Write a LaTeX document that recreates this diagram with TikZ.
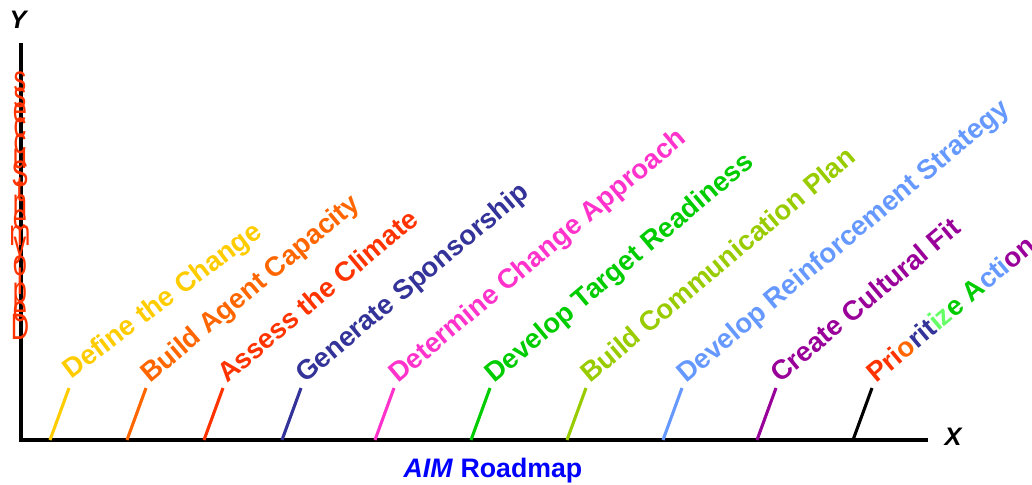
\documentclass[tikz,border=0pt]{standalone}
\usepackage{fontspec}
\setmainfont{Liberation Sans}
\usepackage{tikz}
\usetikzlibrary{calc}

\definecolor{gold}{HTML}{FFCC00}
\definecolor{orng}{HTML}{FF6600}
\definecolor{redorng}{HTML}{FF3300}
\definecolor{navy}{HTML}{333399}
\definecolor{pink}{HTML}{FF33CC}
\definecolor{grn}{HTML}{00CC00}
\definecolor{lime}{HTML}{99CC00}
\definecolor{skyblue}{HTML}{6699FF}
\definecolor{purp}{HTML}{990099}
\definecolor{lightgrn}{HTML}{66FF66}

\tikzset{
  axis/.style={line width=2.2pt, black},
  tick/.style={line width=2.2pt},
  phase/.style={anchor=base west, inner sep=0pt, rotate=40,
    font=\fontsize{19.5}{21}\selectfont\bfseries},
  axlabel/.style={font=\fontsize{18}{20}\selectfont\bfseries\itshape},
  stackletter/.style={redorng, inner sep=0pt, yscale=1.45,
    font=\fontsize{18}{18}\selectfont}
}

\begin{document}
\begin{tikzpicture}[x=0.025cm, y=-0.025cm]
		\useasboundingbox (0,0) rectangle (1032,485);

		% axes
		\coordinate (O) at (21,440);
		\coordinate (ytop) at (21,43);
		\coordinate (xend) at (928,440);
		\draw[axis] (ytop) -- (O) -- (xend);
		\node (Y) [axlabel] at (18,20) {Y};
		\node (X) [axlabel] at (953,437) {X};
		\node (road) at (493,471) {\fontsize{19}{22}\selectfont\bfseries\color{blue}\textit{AIM} Roadmap};

		% stacked y label, read from the bottom up
		\foreach \ch [count=\i from 0] in {D,e,p,l,o,y,m,e,n,t,S,u,c,c,e,s,s}
			\node (dy\i) [stackletter] at (20,327-15.3*\i) {\ch};

		% phases along the roadmap
		\coordinate (b1) at (50,440);  \coordinate (t1) at (69,388);
		\draw[tick, gold] (b1) -- (t1);
		\node (p1) [phase, gold, rotate=-3] at ($(t1)+(2,-8)$) {Define the Change};

		\coordinate (b2) at (127,440); \coordinate (t2) at (146,388);
		\draw[tick, orng] (b2) -- (t2);
		\node (p2) [phase, orng] at ($(t2)+(4,-4)$) {Build Agent Capacity};

		\coordinate (b3) at (204,440); \coordinate (t3) at (223,388);
		\draw[tick, redorng] (b3) -- (t3);
		\node (p3) [phase, redorng] at ($(t3)+(4,-4)$) {Assess the Climate};

		\coordinate (b4) at (282,440); \coordinate (t4) at (301,388);
		\draw[tick, navy] (b4) -- (t4);
		\node (p4) [phase, navy] at ($(t4)+(4,-4)$) {Generate Sponsorship};

		\coordinate (b5) at (375,440); \coordinate (t5) at (394,388);
		\draw[tick, pink] (b5) -- (t5);
		\node (p5) [phase, pink] at ($(t5)+(4,-4)$) {Determine Change Approach};

		\coordinate (b6) at (471,440); \coordinate (t6) at (490,388);
		\draw[tick, grn] (b6) -- (t6);
		\node (p6) [phase, grn] at ($(t6)+(4,-4)$) {Develop Target Readiness};

		\coordinate (b7) at (567,440); \coordinate (t7) at (586,388);
		\draw[tick, lime] (b7) -- (t7);
		\node (p7) [phase, lime] at ($(t7)+(4,-4)$) {Build Communication Plan};

		\coordinate (b8) at (663,440); \coordinate (t8) at (682,388);
		\draw[tick, skyblue] (b8) -- (t8);
		\node (p8) [phase, skyblue] at ($(t8)+(4,-4)$) {Develop Reinforcement Strategy};

		\coordinate (b9) at (757,440); \coordinate (t9) at (776,388);
		\draw[tick, purp] (b9) -- (t9);
		\node (p9) [phase, purp] at ($(t9)+(4,-4)$) {Create Cultural Fit};

		\coordinate (b10) at (853,440); \coordinate (t10) at (872,388);
		\draw[tick, black] (b10) -- (t10);
		\node (p10) [phase] at ($(t10)+(4,-4)$) {\textcolor{redorng}{Pri}\textcolor{orng}{o}\textcolor{navy}{rit}\textcolor{lightgrn}{iz}\textcolor{grn}{e A}\textcolor{skyblue}{cti}\textcolor{purp}{on}};

	\end{tikzpicture}
\end{document}
